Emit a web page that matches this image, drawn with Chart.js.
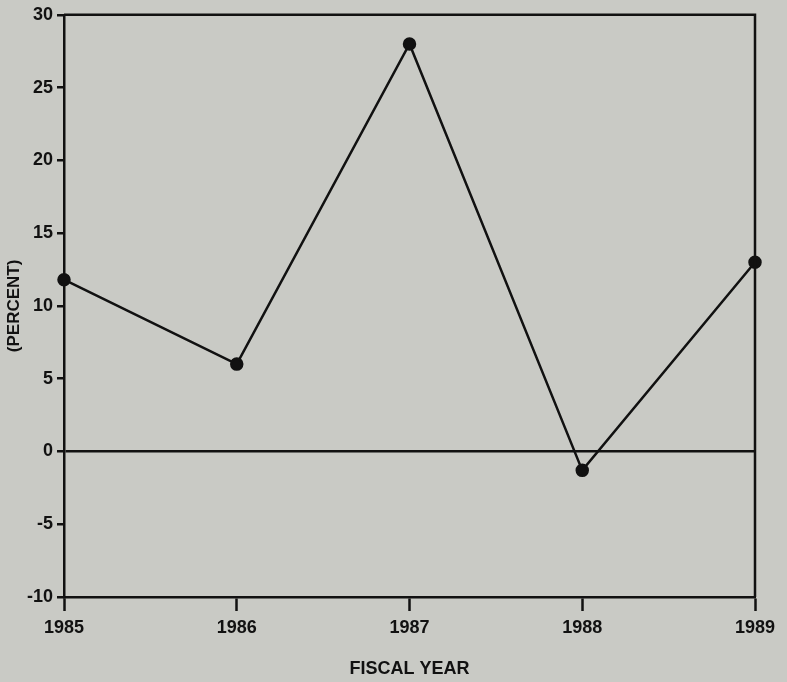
<!DOCTYPE html>
<html>
<head>
<meta charset="utf-8">
<script src="https://cdn.jsdelivr.net/npm/chart.js@4.4.1/dist/chart.umd.min.js"></script>
<style>
  html, body { margin: 0; padding: 0; background: #c9cac5; }
  #wrap { width: 787px; height: 682px; }
</style>
</head>
<body>
<div id="wrap"><canvas id="chart"></canvas></div>
<script>
// fiscal years and percent change
const years = ['1985', '1986', '1987', '1988', '1989'];
const percent = [11.8, 6.0, 28.0, -1.3, 13.0];
const yMin = -10;
const yMax = 30;
const yStep = 5;

const ink = '#111111';
const fontFam = '"Liberation Sans", Arial, sans-serif';

// frame around the plot (top + right sides)
const framePlugin = {
  id: 'frame',
  afterDraw(chart) {
    const { ctx, chartArea: a } = chart;
    ctx.save();
    ctx.strokeStyle = ink;
    ctx.lineWidth = 2.5;
    ctx.beginPath();
    ctx.moveTo(a.left, a.top);
    ctx.lineTo(a.right, a.top);
    ctx.lineTo(a.right, a.bottom);
    ctx.stroke();
    ctx.restore();
  }
};

const ctx = document.getElementById('chart').getContext('2d');
new Chart(ctx, {
  type: 'line',
  data: {
    labels: years,
    datasets: [{
      data: percent,
      borderColor: ink,
      borderWidth: 2.5,
      pointBackgroundColor: ink,
      pointBorderColor: ink,
      pointRadius: 5.5,
      tension: 0
    }]
  },
  options: {
    responsive: true,
    maintainAspectRatio: false,
    animation: false,
    layout: { padding: { left: 0, right: 32, top: 14, bottom: 0 } },
    plugins: { legend: { display: false }, tooltip: { enabled: false } },
    scales: {
      x: {
        grid: { drawOnChartArea: false, tickLength: 14, tickColor: ink, tickWidth: 2.5 },
        border: { color: ink, width: 2.5 },
        ticks: {
          color: ink, padding: 6, maxRotation: 0,
          font: { family: fontFam, size: 18, weight: 'bold' }
        },
        title: {
          display: true, text: 'FISCAL YEAR', color: ink,
          padding: { top: 0, bottom: 2 },
          font: { family: fontFam, size: 18, weight: 'bold' }
        },
        afterFit(scale) { scale.height = 85; }
      },
      y: {
        min: yMin,
        max: yMax,
        grid: {
          tickLength: 7,
          tickColor: ink,
          tickWidth: 2.5,
          lineWidth: 2.5,
          color: c => (c.tick && c.tick.value === 0 ? ink : 'rgba(0,0,0,0)')
        },
        border: { color: ink, width: 2.5 },
        ticks: {
          stepSize: yStep, color: ink, padding: 4,
          font: { family: fontFam, size: 18, weight: 'bold' }
        },
        title: {
          display: true, text: '(PERCENT)', color: ink,
          padding: { top: 4, bottom: 0 },
          font: { family: fontFam, size: 17, weight: 'bold' }
        },
        afterFit(scale) { scale.width = 64; }
      }
    }
  },
  plugins: [framePlugin]
});
</script>
</body>
</html>
